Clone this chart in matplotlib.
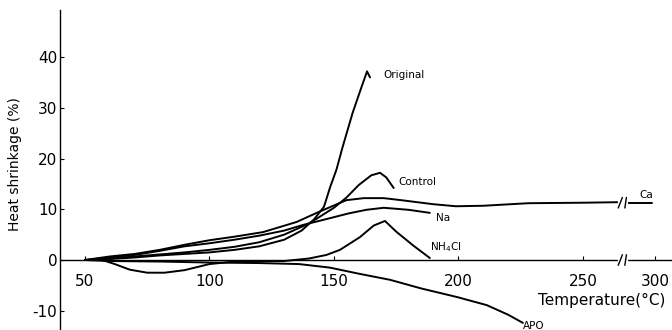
import numpy as np
import matplotlib
matplotlib.use("Agg")
import matplotlib.pyplot as plt

plt.rcParams['font.family'] = 'DejaVu Sans'
plt.rcParams['font.size'] = 10

# Temperatur (°C) / Schrumpfung (%) je Probe
t_original = [50, 60, 70, 80, 90, 100, 110, 120, 130, 137, 142, 146, 148.5, 151, 153.5, 157.5, 161, 163.3, 164.5]
v_original = [0, 0.2, 0.5, 0.9, 1.2, 1.5, 2.0, 2.7, 4.0, 5.8, 8.0, 10.5, 14.4, 17.8, 22.3, 29, 34, 37.2, 36.0]

t_control = [52, 60, 70, 80, 90, 100, 110, 120, 130, 140, 150, 155, 160, 165, 168.5, 171, 174]
v_control = [0, 0.3, 0.7, 1.1, 1.5, 2.0, 2.6, 3.5, 5.0, 7.2, 10.3, 12.3, 14.8, 16.7, 17.2, 16.3, 14.2]

t_ca = [50, 60, 70, 80, 90, 100, 110, 121.5, 135, 144, 155, 162, 170, 177, 190, 199, 210, 228, 250, 264]
v_ca = [0, 0.7, 1.2, 2.0, 3.0, 3.9, 4.6, 5.5, 7.5, 9.5, 11.8, 12.2, 12.2, 11.8, 11.0, 10.6, 10.7, 11.2, 11.3, 11.4]
t_ca2 = [268, 280, 297]
v_ca2 = [11.3, 11.3, 11.3]

t_na = [50, 60, 70, 80, 90, 100, 110, 120, 130, 137.5, 148, 156, 163, 170, 180, 188.5]
v_na = [0, 0.5, 1.0, 1.8, 2.7, 3.3, 4.0, 4.8, 5.8, 6.9, 8.2, 9.2, 9.9, 10.3, 9.9, 9.3]

t_nh4cl = [50, 57, 62, 68, 75, 82, 90, 100, 110, 130, 140, 147, 152.4, 160.4, 166, 170.5, 175, 182, 188.5]
v_nh4cl = [0, 0, -0.8, -1.9, -2.5, -2.5, -2.0, -0.8, -0.3, -0.2, 0.3, 1.0, 2.0, 4.5, 6.8, 7.7, 5.6, 2.8, 0.4]

t_apo = [50, 60, 80, 100, 120, 136, 148.4, 160, 172.5, 185, 199.4, 211.4, 220, 225.9]
v_apo = [0, -0.2, -0.3, -0.5, -0.6, -0.8, -1.5, -2.7, -3.9, -5.6, -7.3, -8.9, -10.8, -12.4]

x_ticks = [50, 100, 150, 200, 250, 300]
y_ticks = [-10, 0, 10, 20, 30, 40]

# Achsenbruch zwischen 250 und 300
BRK = 266
K = 0.38


def fwd(t):
    t = np.asarray(t, dtype=float)
    return np.where(t <= BRK, t, BRK + (t - BRK) * K)


def inv(p):
    p = np.asarray(p, dtype=float)
    return np.where(p <= BRK, p, BRK + (p - BRK) / K)


fig = plt.figure(figsize=(6.72, 3.30), dpi=100)
ax = fig.add_axes([60 / 672, 0.0, 1 - 60 / 672, 320 / 330])
ax.set_xscale('function', functions=(fwd, inv))
ax.set_xlim(40, 318)
ax.set_ylim(-13.8, 49.3)

lw = 1.4
for t, v in [(t_original, v_original), (t_control, v_control), (t_ca, v_ca),
             (t_ca2, v_ca2), (t_na, v_na), (t_nh4cl, v_nh4cl), (t_apo, v_apo)]:
    ax.plot(t, v, color='black', lw=lw, solid_capstyle='round')

# Bruchzeichen auf Ca-Kurve und Nulllinie
for yb in [0, 11.3]:
    ax.plot([BRK - 1.2, BRK + 3.5], [yb, yb], color='white', lw=3, zorder=3)
    for dx in [-1.0, 3.0]:
        ax.plot([BRK + dx - 0.8, BRK + dx + 0.8], [yb - 1.0, yb + 1.0],
                color='black', lw=1.0, zorder=4)

# Beschriftungen der Kurven
fs = 7.5
ax.text(169.7, 36.5, "Original", fontsize=fs, va='center')
ax.text(175.7, 15.4, "Control", fontsize=fs, va='center')
ax.text(284, 12.8, "Ca", fontsize=fs, va='center')
ax.text(191, 8.3, "Na", fontsize=fs, va='center')
ax.text(188.6, 2.6, "NH$_4$Cl", fontsize=fs, va='center')
ax.text(225.9, -13.0, "APO", fontsize=fs, va='center', clip_on=False)

ax.spines['top'].set_visible(False)
ax.spines['right'].set_visible(False)
ax.spines['bottom'].set_position(('data', 0))
ax.spines['left'].set_linewidth(1.0)
ax.spines['bottom'].set_linewidth(1.0)

ax.set_xticks(x_ticks)
ax.set_xticklabels([str(x) for x in x_ticks])
ax.set_yticks(y_ticks)
ax.set_yticklabels([str(y) for y in y_ticks])
ax.xaxis.set_minor_locator(matplotlib.ticker.NullLocator())
ax.tick_params(axis='x', direction='in', length=3, pad=10, labelsize=11)
ax.tick_params(axis='y', direction='in', length=3, pad=2, labelsize=11)

ax.set_ylabel("Heat shrinkage (%)", fontsize=10)
ax.yaxis.set_label_coords(-0.062, 0.52)
fig.text(665 / 672, 1 - 300 / 330, "Temperature(°C)", fontsize=11, ha='right', va='center')

plt.savefig("out.png", dpi=100)
